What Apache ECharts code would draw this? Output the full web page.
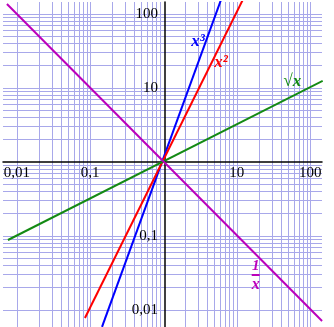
<!DOCTYPE html>
<html><head><meta charset="utf-8">
<script src="https://cdn.jsdelivr.net/npm/echarts@6/dist/echarts.min.js"></script>
<style>html,body{margin:0;padding:0;background:#fff}#c{width:334px;height:327px}</style>
</head><body><div id="c"></div>
<script>
// tick labels (comma decimal)
const tickValues = [0.01, 0.1, 10, 100];
const tickLabels = ['0,01', '0,1', '10', '100'];
// grid line decades and steps
const gridDecades = [0.001, 0.01, 0.1, 1, 10, 100];
const gridSteps = [1, 2, 3, 4, 5, 6, 7, 8, 9];
// series endpoints
const cubeX = [0.145, 6.08];
const cubeY = [0.0059, 155];
const squareX = [0.0848, 12.05];
const squareY = [0.0078, 155];
const sqrtX = [0.00756, 148.5];
const sqrtY = [0.0883, 12.5];
const invX = [0.00732, 145.5];
const invY = [136.6, 0.0071];
// annotation anchors (data coords)
const annotX = [2.97, 6.08, 57, 18.1];
const annotY = [41.8, 21.8, 12.05, 0.0288];

const X_MIN = 0.00647, X_MAX = 145.2, Y_MIN = 0.00589, Y_MAX = 145.2;
const GRID_COLOR = '#a8a8ea';

function pairs(xs, ys) { return xs.map((x, i) => [x, ys[i]]); }
function fmt(v) {
  const L = Math.log10(v), r = Math.round(L);
  if (Math.abs(L - r) > 1e-6) return '';
  const i = tickValues.findIndex(t => Math.abs(Math.log10(t) - r) < 1e-6);
  return i < 0 ? '' : tickLabels[i];
}
const gx = [], gy = [];
gridDecades.forEach(d => gridSteps.forEach(s => {
  const v = d * s;
  if (Math.abs(v - 1) < 1e-9) return;
  if (v > X_MIN && v < X_MAX) gx.push({ xAxis: v });
  if (v > Y_MIN && v < Y_MAX) gy.push({ yAxis: v });
}));

const labelFont = { fontFamily: 'Liberation Serif', fontSize: 17, fontStyle: 'italic', fontWeight: 'bold' };
function annot(i, text, color, extra) {
  return {
    symbol: 'rect', symbolSize: 1, itemStyle: { color: 'rgba(0,0,0,0)' },
    silent: true, animation: false, z: 6,
    data: [{ coord: [annotX[i], annotY[i]] }],
    label: Object.assign({ show: true, position: 'inside', formatter: text, color: color }, labelFont, extra || {})
  };
}
function curve(name, xs, ys, color, mp) {
  return {
    name: name, type: 'line', data: pairs(xs, ys), symbol: 'none', clip: true, z: 3,
    lineStyle: { color: color, width: 2 }, animation: false, markPoint: mp
  };
}

const chart = echarts.init(document.getElementById('c'), null, { renderer: 'canvas' });
const PURPLE = '#bb00bb';
chart.setOption({
  animation: false,
  grid: { left: 0, right: 12, top: 2, bottom: 0, containLabel: false },
  xAxis: {
    type: 'log', min: X_MIN, max: X_MAX, position: 'bottom', offset: -165, z: 2,
    axisLine: { show: true, lineStyle: { color: '#000', width: 1.5 } },
    axisTick: { show: false }, splitLine: { show: false },
    axisLabel: { formatter: fmt, margin: 4, color: '#000', fontFamily: 'Liberation Serif', fontSize: 15, showMinLabel: true, showMaxLabel: true }
  },
  yAxis: {
    type: 'log', min: Y_MIN, max: Y_MAX, position: 'left', offset: -162, z: 2,
    axisLine: { show: true, lineStyle: { color: '#000', width: 1.5 } },
    axisTick: { show: false }, splitLine: { show: false },
    axisLabel: { formatter: fmt, margin: 7, color: '#000', fontFamily: 'Liberation Serif', fontSize: 15 }
  },
  series: [
    {
      type: 'line', data: [[1, 1]], symbol: 'none', z: 1, lineStyle: { opacity: 0 }, silent: true,
      markLine: {
        z: 1, zlevel: 0,
        silent: true, symbol: ['none', 'none'], animation: false,
        label: { show: false },
        lineStyle: { color: GRID_COLOR, width: 1, type: 'solid' },
        data: gx.concat(gy)
      }
    },
    curve('x3', cubeX, cubeY, '#0000ff', annot(0, 'x³', '#0000ff')),
    curve('x2', squareX, squareY, '#ff0000', annot(1, 'x²', '#ff0000')),
    curve('sqrt', sqrtX, sqrtY, '#138a13', annot(2, '√x', '#138a13')),
    curve('inv', invX, invY, PURPLE, annot(3, '{a|1}\n{b| }\n{c|x}', PURPLE, {
      rich: {
        a: { fontFamily: 'Liberation Serif', fontSize: 15, fontWeight: 'bold', color: PURPLE, lineHeight: 12, align: 'center' },
        b: { width: 8, height: 2, lineHeight: 5, backgroundColor: PURPLE, align: 'center' },
        c: { fontFamily: 'Liberation Serif', fontSize: 16, fontStyle: 'italic', fontWeight: 'bold', color: PURPLE, lineHeight: 14, align: 'center' }
      }
    }))
  ]
});
</script></body></html>
